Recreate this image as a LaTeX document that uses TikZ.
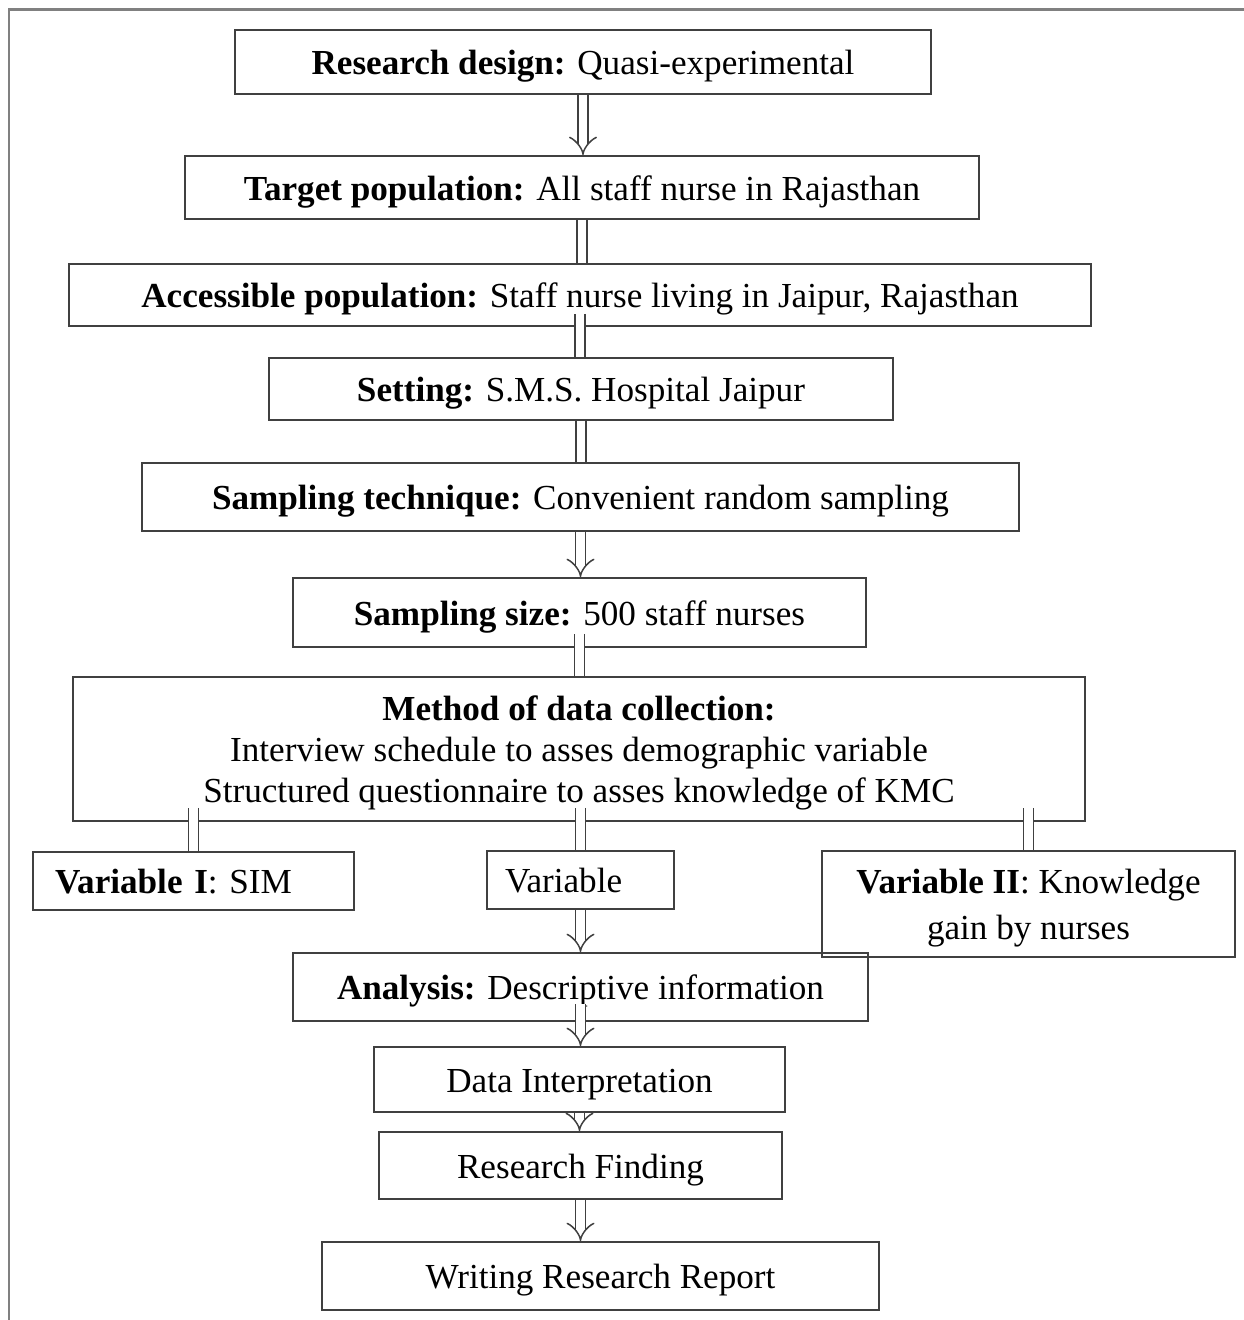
\documentclass[tikz,border=0pt]{standalone}
\usepackage{fontspec}
\setmainfont{Liberation Serif}
\usetikzlibrary{arrows.meta}

\begin{document}
\begin{tikzpicture}[x=0.02cm,y=-0.02cm,
    box/.style={draw=black!75,line width=0.035cm,inner sep=0pt,align=center,
      text depth=0pt,font=\fontsize{20}{23.3}\selectfont},
    one/.style={box,text height=0.5cm},
    pipe/.style={draw=black!75,line width=0.03cm,double=white,double distance=0.17cm},
    harrow/.style={pipe,-{Implies[length=0.16cm]}}]

    \useasboundingbox (0,0) rectangle (1244,1320);
    \draw[gray,line width=0.06cm] (9,1320) -- (9,9) -- (1244,9);

    % main column
    \node[one,minimum width=13.92cm,minimum height=1.28cm] (design) at (583,62)
      {\textbf{Research design:} Quasi-experimental};
    \node[one,minimum width=15.88cm,minimum height=1.26cm] (target) at (582,187.5)
      {\textbf{Target population:} All staff nurse in Rajasthan};
    \node[one,minimum width=20.44cm,minimum height=1.24cm] (access) at (580,295)
      {\textbf{Accessible population:} Staff nurse living in Jaipur, Rajasthan};
    \node[one,minimum width=12.48cm,minimum height=1.24cm] (setting) at (581,389)
      {\textbf{Setting:} S.M.S. Hospital Jaipur};
    \node[one,minimum width=17.54cm,minimum height=1.36cm] (technique) at (580.5,497)
      {\textbf{Sampling technique:} Convenient random sampling};
    \node[one,minimum width=11.46cm,minimum height=1.38cm] (size) at (579.5,612.5)
      {\textbf{Sampling size:} 500 staff nurses};
    \node[box,minimum width=20.24cm,minimum height=2.88cm] (method) at (579,749)
      {\textbf{Method of data collection:}\\Interview schedule to asses demographic variable\\Structured questionnaire to asses knowledge of KMC};

    % variables
    \node[one,minimum width=6.42cm,minimum height=1.16cm,inner xsep=0.44cm,text width=5.54cm,align=left]
      (varone) at (193.5,881) {\textbf{Variable I}: SIM};
    \node[one,minimum width=3.74cm,minimum height=1.16cm,inner xsep=0.36cm,text width=3.02cm,align=left]
      (variable) at (580.5,880) {Variable};
    \node[box,minimum width=8.26cm,minimum height=2.12cm,font=\fontsize{20}{26}\selectfont]
      (vartwo) at (1028.5,904) {\textbf{Variable II}: Knowledge\\gain by nurses};

    % lower column
    \node[one,minimum width=11.5cm,minimum height=1.36cm] (analysis) at (580.5,987)
      {\textbf{Analysis:} Descriptive information};
    \node[one,minimum width=8.22cm,minimum height=1.3cm] (interp) at (579.5,1079.5)
      {Data Interpretation};
    \node[one,minimum width=8.06cm,minimum height=1.34cm] (finding) at (580.5,1165.5)
      {Research Finding};
    \node[one,minimum width=11.14cm,minimum height=1.36cm] (report) at (600.5,1276)
      {Writing Research Report};

    % connectors
    \draw[harrow] (design.south) -- (design.south |- target.north);
    \draw[pipe] (target.south) -- (target.south |- access.north);
    \draw[pipe,shorten <=-0.26cm] (access.south) -- (access.south |- setting.north);
    \draw[pipe] (setting.south) -- (setting.south |- technique.north);
    \draw[harrow] (technique.south) -- (technique.south |- size.north);
    \draw[pipe,shorten <=-0.28cm] (size.south) -- (size.south |- method.north);
    \foreach \v in {varone,variable,vartwo}
      \draw[pipe,shorten <=-0.28cm] (method.south -| \v.north) -- (\v.north);
    \draw[harrow] (variable.south) -- (variable.south |- analysis.north);
    \draw[harrow,shorten <=-0.36cm] (analysis.south) -- (analysis.south |- interp.north);
    \draw[harrow] (interp.south) -- (interp.south |- finding.north);
    \draw[harrow] (finding.south) -- (finding.south |- report.north);
\end{tikzpicture}
\end{document}
